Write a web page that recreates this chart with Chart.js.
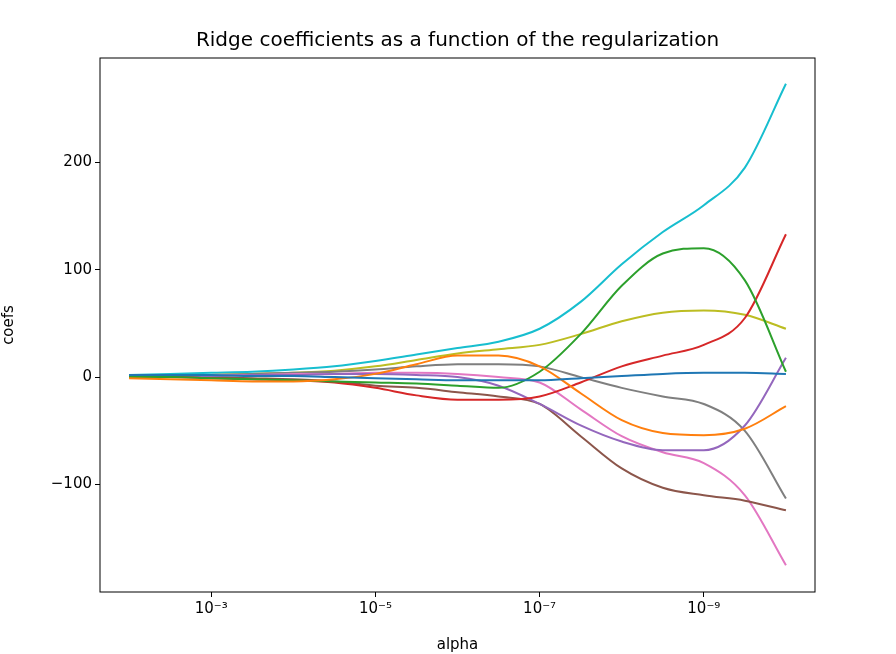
<!DOCTYPE html>
<html>
<head>
<meta charset="utf-8">
<script src="https://cdn.jsdelivr.net/npm/chart.js@4"></script>
<style>body{margin:0;background:#fff}</style>
</head>
<body>
<canvas id="grafica" width="896" height="654"></canvas>
<script>
// alpha from 1e-2 down to 1e-10, half-decade steps
const exponentes = [-2,-2.5,-3,-3.5,-4,-4.5,-5,-5.5,-6,-6.5,-7,-7.5,-8,-8.5,-9,-9.5,-10]
const alphas = exponentes.map(e => Math.pow(10, e))

const coefAzul = [2,2,2,1,1,0,-1,-2,-3,-3,-3,-1,1,3,4,4,3]
const coefNaranja = [-1,-2,-3,-4,-4,-2,3,12,20,20,10,-15,-40,-52,-54,-48,-27]
const coefVerde = [0,0,-1,-2,-3,-4,-5,-6,-8,-10,5,40,85,115,120,90,5]
const coefRojo = [0,0,-1,-2,-3,-5,-10,-17,-21,-21,-18,-5,10,20,30,55,133]
const coefMorado = [0,1,1,2,2,3,3,2,0,-8,-25,-45,-60,-68,-68,-45,18]
const coefCafe = [0,0,0,-1,-2,-4,-8,-10,-14,-18,-25,-55,-85,-103,-110,-115,-124]
const coefRosa = [0,1,2,2,3,3,4,4,3,0,-5,-30,-55,-70,-80,-110,-175]
const coefGris = [0,1,2,3,4,5,7,10,12,12,10,0,-10,-18,-25,-50,-113]
const coefOliva = [0,1,2,3,4,6,10,16,22,26,30,40,52,60,62,58,45]
const coefCian = [2,3,4,5,7,10,15,21,27,33,45,70,105,135,160,195,273]

const ticksX = [1e-3, 1e-5, 1e-7, 1e-9]
const etiquetasX = ['10\u207B\u00B3', '10\u207B\u2075', '10\u207B\u2077', '10\u207B\u2079']
const ticksY = [-100, 0, 100, 200]

const series = [
    [coefAzul, '#1f77b4'], [coefNaranja, '#ff7f0e'], [coefVerde, '#2ca02c'],
    [coefRojo, '#d62728'], [coefMorado, '#9467bd'], [coefCafe, '#8c564b'],
    [coefRosa, '#e377c2'], [coefGris, '#7f7f7f'], [coefOliva, '#bcbd22'],
    [coefCian, '#17becf']
]

const datasets = series.map(([vals, color]) => ({
    data: vals.map((v, i) => ({ x: alphas[i], y: v })),
    borderColor: color,
    borderWidth: 2,
    pointRadius: 0,
    fill: false,
    cubicInterpolationMode: 'monotone'
}))

const marco = {
    id: 'marco',
    afterDraw(chart) {
        const { ctx, chartArea: a } = chart
        ctx.save()
        ctx.strokeStyle = '#000'
        ctx.lineWidth = 1
        ctx.strokeRect(a.left, a.top, a.right - a.left, a.bottom - a.top)
        ctx.fillStyle = '#000'
        ctx.font = '20px "DejaVu Sans"'
        ctx.textAlign = 'center'
        ctx.textBaseline = 'alphabetic'
        ctx.fillText('Ridge coefficients as a function of the regularization', (a.left + a.right) / 2, 46)
        ctx.restore()
    }
}

const fuente = { family: 'DejaVu Sans', size: 15 }

new Chart(document.getElementById('grafica'), {
    type: 'line',
    data: { datasets },
    plugins: [marco],
    options: {
        responsive: false,
        animation: false,
        layout: { padding: { top: 58, right: 81, left: 0, bottom: 0 } },
        plugins: { legend: { display: false }, tooltip: { enabled: false } },
        scales: {
            x: {
                type: 'logarithmic',
                reverse: true,
                min: Math.pow(10, -10.354),
                max: Math.pow(10, -1.646),
                afterBuildTicks: s => { s.ticks = ticksX.map(v => ({ value: v })) },
                afterFit: s => { s.height = 62 },
                ticks: {
                    color: '#000', font: fuente, autoSkip: false, maxRotation: 0,
                    callback: (v) => etiquetasX[ticksX.findIndex(t => Math.abs(t - v) / t < 1e-6)]
                },
                grid: { drawOnChartArea: false, color: '#000', tickLength: 5 },
                border: { display: false },
                title: { display: true, text: 'alpha', color: '#000', font: fuente, padding: 0 }
            },
            y: {
                min: -200,
                max: 297,
                afterBuildTicks: s => { s.ticks = ticksY.map(v => ({ value: v })) },
                afterFit: s => { s.width = 100 },
                ticks: { color: '#000', font: fuente, callback: v => v < 0 ? '\u2212' + Math.abs(v) : String(v) },
                grid: { drawOnChartArea: false, color: '#000', tickLength: 5 },
                border: { display: false },
                title: { display: true, text: 'coefs', color: '#000', font: fuente, padding: 0 }
            }
        }
    }
})
</script>
</body>
</html>
